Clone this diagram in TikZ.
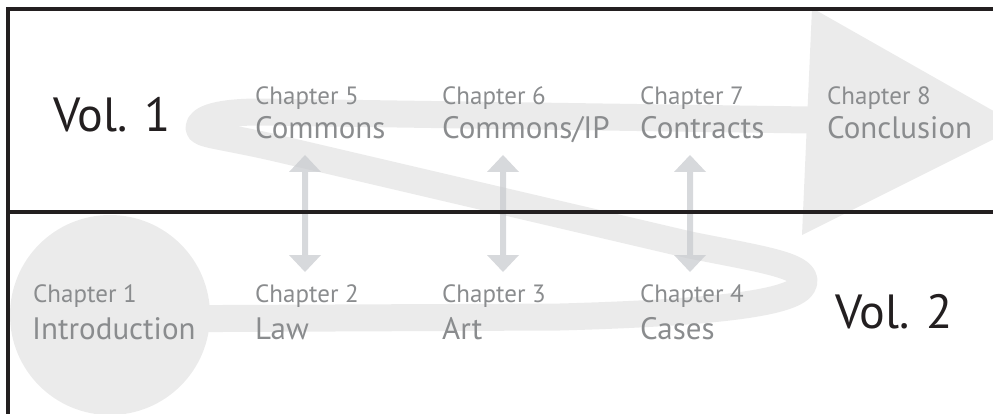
\documentclass[tikz,border=0pt]{standalone}
\usepackage{fontspec}
\setmainfont{PT Sans}
\usetikzlibrary{calc}
\definecolor{bandgray}{RGB}{235,235,235}
\definecolor{linkgray}{RGB}{200,202,206}
\definecolor{chapgray}{RGB}{138,140,142}
\definecolor{rulecol}{RGB}{35,31,32}
\begin{document}
\begin{tikzpicture}[x=1pt,y=-1pt,
  chapnum/.style={font=\fontsize{25}{25}\selectfont, text=chapgray, inner sep=0pt, anchor=base west},
  chaptitle/.style={font=\fontsize{31}{31}\selectfont, text=chapgray, inner sep=0pt, anchor=base west},
  vollabel/.style={font=\fontsize{48}{48}\selectfont, text=rulecol, inner sep=0pt, anchor=base west},
  framerule/.style={draw=rulecol, line width=3.5pt},
  band/.style={draw=bandgray, line width=27pt, line cap=butt, line join=round},
  linkfill/.style={fill=linkgray, fill opacity=0.72}]
\useasboundingbox (0,0) rectangle (993,414);
\clip (0,0) rectangle (993,414);

% starting disc, serpentine track and final arrow head
\fill[bandgray] (110,315) circle (100pt);
\draw[band] (110,319) -- (560,317)
  .. controls (740,312) and (804,300) .. (804,281)
  .. controls (804,265) and (760,259) .. (690,245)
  -- (280,149)
  .. controls (220,135) and (199,135) .. (199,128)
  .. controls (199,118) and (220,112) .. (260,112)
  -- (808,120);
\fill[bandgray] (812,8) -- (1020,126) -- (802,235) -- cycle;

% links between the two volumes
\foreach \n/\x in {a/305,b/503,c/690}{
  \coordinate (\n top) at (\x,155);
  \coordinate (\n bot) at (\x,272);
  \fill[linkfill] (\n top) -- ++(16,17) -- ++(-13,0) -- ($(\n bot)+(3,-17)$)
    -- ++(13,0) -- (\n bot) -- ++(-16,-17) -- ++(13,0) -- ($(\n top)+(-3,17)$)
    -- ++(-13,0) -- cycle;
}

% frame
\draw[framerule] (993,9) -- (8,9) -- (8,414);
\draw[framerule] (8,212) -- (993,212);

% volume labels
\node[vollabel] (v1) at (53,132) {Vol. 1};
\node[vollabel] (v2) at (835,328) {Vol. 2};

% chapters, volume 2 row
\node[chapnum] (n1) at (33,302) {Chapter 1};
\node[chaptitle] (t1) at (32,339) {Introduction};
\node[chapnum] (n2) at (255,302) {Chapter 2};
\node[chaptitle] (t2) at (255,339) {Law};
\node[chapnum] (n3) at (442,302) {Chapter 3};
\node[chaptitle] (t3) at (442,339) {Art};
\node[chapnum] (n4) at (640,302) {Chapter 4};
\node[chaptitle] (t4) at (640,339) {Cases};

% chapters, volume 1 row
\node[chapnum] (n5) at (255,105) {Chapter 5};
\node[chaptitle] (t5) at (255,139) {Commons};
\node[chapnum] (n6) at (442,105) {Chapter 6};
\node[chaptitle] (t6) at (442,139) {Commons/IP};
\node[chapnum] (n7) at (640,105) {Chapter 7};
\node[chaptitle] (t7) at (640,139) {Contracts};
\node[chapnum] (n8) at (827,105) {Chapter 8};
\node[chaptitle] (t8) at (827,139) {Conclusion};
\end{tikzpicture}
\end{document}
